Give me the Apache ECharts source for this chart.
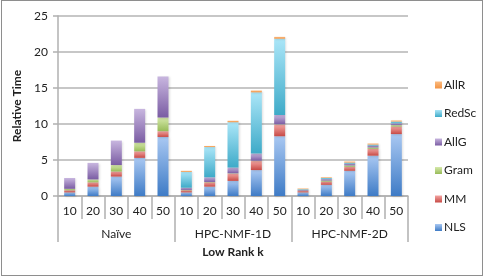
<!DOCTYPE html>
<html><head><meta charset="utf-8">
<script src="https://cdn.jsdelivr.net/npm/echarts@6/dist/echarts.min.js"></script>
<style>html,body{margin:0;padding:0;background:#fff}#c{width:485px;height:277px;position:absolute;left:0;top:0}#b{position:absolute;left:1px;top:0;width:480px;height:274px;border:1px solid #8e8e8e;pointer-events:none}</style>
</head><body><div id="c"></div><div id="b"></div>
<script>
const categories = ['10','20','30','40','50','10','20','30','40','50','10','20','30','40','50'];
const groups = ['Naïve','HPC-NMF-1D','HPC-NMF-2D'];
const NLS   = [0.5,1.3,2.7,5.3,8.2, 0.5,1.3,2.1,3.6,8.3, 0.5,1.55,3.5,5.6,8.6];
const MM    = [0.3,0.6,0.7,0.9,0.8, 0.3,0.6,1.0,1.25,1.6, 0.2,0.45,0.55,0.95,1.05];
const Gram  = [0.2,0.4,0.9,1.2,1.9, 0.05,0.05,0.05,0.05,0.05, 0.05,0.15,0.2,0.2,0.2];
const AllG  = [1.5,2.3,3.4,4.7,5.7, 0.3,0.65,0.8,1.0,1.3, 0.1,0.2,0.25,0.25,0.25];
const RedSc = [0,0,0,0,0, 2.2,4.2,6.3,8.5,10.6, 0.1,0.15,0.15,0.15,0.25];
const AllR  = [0,0,0,0,0, 0.15,0.15,0.2,0.25,0.25, 0.1,0.1,0.15,0.15,0.15];
const yTicks = [0,5,10,15,20,25];

const font = 'Lato, "Open Sans", sans-serif';
function grad(top, bottom){
  return new echarts.graphic.LinearGradient(0,0,0,1,[{offset:0,color:top},{offset:1,color:bottom}]);
}
const seriesDefs = [
  ['NLS', NLS, '#a9c8f2', '#3e7bc6'],
  ['MM', MM, '#f4a5a2', '#c74a46'],
  ['Gram', Gram, '#d6e9ab', '#97bb58'],
  ['AllG', AllG, '#c8b6df', '#7a5ca3'],
  ['RedSc', RedSc, '#abe6f8', '#3eaac8'],
  ['AllR', AllR, '#fbbb80', '#f29343']
];
const chart = echarts.init(document.getElementById('c'), null, {renderer:'canvas'});
chart.setOption({
  animation:false,
  backgroundColor:'#fff',
  grid:{left:58,right:77,top:16,bottom:81,containLabel:false},
  legend:{
    orient:'vertical', left:430, top:74, itemWidth:7, itemHeight:7, itemGap:16.5,
    icon:'rect',
    data:['AllR','RedSc','AllG','Gram','MM','NLS'],
    textStyle:{fontFamily:font,fontSize:12,color:'#222',padding:[0,0,0,-3]}
  },
  xAxis:[
    {type:'category', data:categories, position:'bottom',
     axisLine:{show:true,lineStyle:{color:'#b0b0b0',width:1.5}},
     axisTick:{show:true,length:23,lineStyle:{color:'#b0b0b0',width:1.5}},
     axisLabel:{fontFamily:font,fontSize:12,color:'#222',margin:9,interval:0}},
    {type:'category', data:groups, position:'bottom', gridIndex:0,
     axisLine:{show:false},
     axisTick:{show:true,length:46,lineStyle:{color:'#b0b0b0',width:1.5}},
     axisLabel:{fontFamily:font,fontSize:12,color:'#222',margin:32,interval:0},
     name:'Low Rank k', nameLocation:'middle', nameGap:50,
     nameTextStyle:{fontFamily:font,fontSize:12,fontWeight:'bold',color:'#222'}}
  ],
  yAxis:{type:'value', min:yTicks[0], max:yTicks[yTicks.length-1], interval:5,
    name:'Relative Time', nameLocation:'middle', nameGap:32, nameRotate:90,
    nameTextStyle:{fontFamily:font,fontSize:12,fontWeight:'bold',color:'#222'},
    axisLine:{show:true,lineStyle:{color:'#b0b0b0',width:1.5}},
    axisTick:{show:true,length:5,lineStyle:{color:'#b0b0b0',width:1.5}},
    axisLabel:{fontFamily:font,fontSize:12,color:'#222',margin:10},
    splitLine:{lineStyle:{color:'#b5b5b5',width:1.5}}
  },
  series: seriesDefs.map(([n,d,t,b]) => ({
    name:n, type:'bar', stack:'all', data:d, xAxisIndex:0, barWidth:11,
    itemStyle:{color:grad(t,b), shadowColor:'rgba(0,0,0,0.12)', shadowBlur:2, shadowOffsetX:1, shadowOffsetY:1}
  }))
});
</script></body></html>
